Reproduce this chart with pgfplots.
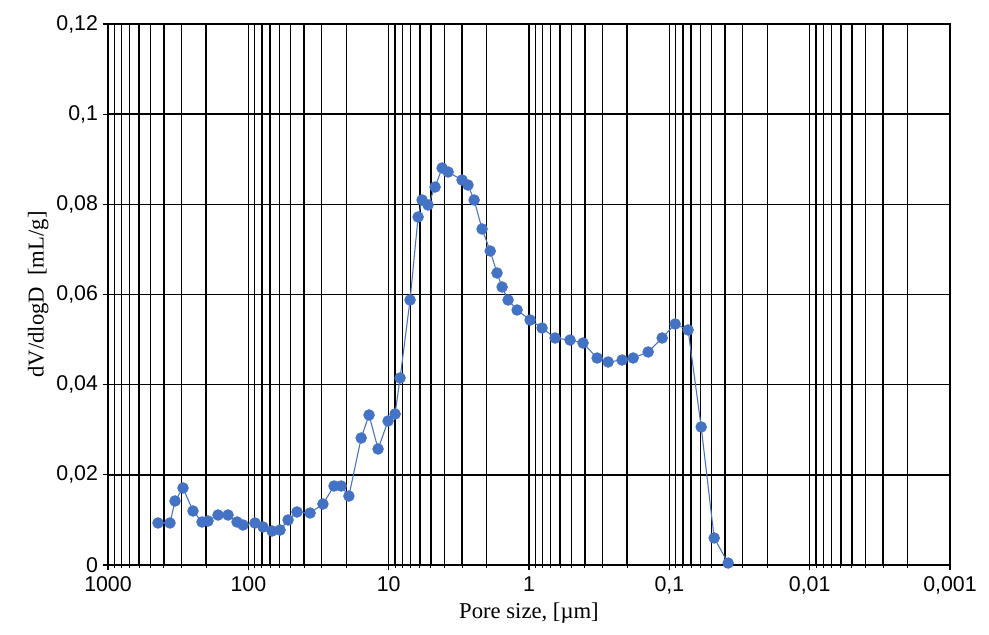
\documentclass[border=0pt]{standalone}
\usepackage{fontspec}
\setmainfont{Liberation Serif}
\setsansfont{Liberation Sans}
\usepackage{pgfplots}
\pgfplotsset{compat=1.18}
\definecolor{ser}{HTML}{4472C4}
\begin{document}
\begin{tikzpicture}
\begin{axis}[
  scale only axis,
  width=631.5pt, height=405.75pt,
  xmode=log, x dir=reverse,
  xmin=0.001, xmax=1000,
  ymin=0, ymax=0.12,
  xtick={1000,100,10,1,0.1,0.01,0.001},
  xticklabels={1000,100,10,1,{0,1},{0,01},{0,001}},
  minor xtick={0.002,0.003,0.004,0.005,0.006,0.007,0.008,0.009,
               0.02,0.03,0.04,0.05,0.06,0.07,0.08,0.09,
               0.2,0.3,0.4,0.5,0.6,0.7,0.8,0.9,
               2,3,4,5,6,7,8,9,
               20,30,40,50,60,70,80,90,
               200,300,400,500,600,700,800,900},
  ytick={0,0.02,0.04,0.06,0.08,0.1,0.12},
  yticklabels={0,{0,02},{0,04},{0,06},{0,08},{0,1},{0,12}},
  grid=both,
  major grid style={black, line width=1.1pt},
  minor grid style={black, line width=1.1pt},
  axis line style={black, line width=1.1pt},
  tick style={black, line width=0.8pt},
  tick align=outside,
  major tick length=4pt,
  minor tick length=2.5pt,
  ytick pos=left, xtick pos=bottom,
  tick label style={font=\sffamily\fontsize{16}{18}\selectfont},
  xticklabel style={yshift=-1.5pt},
  label style={font=\fontsize{17}{20}\selectfont},
  xlabel={Pore size, [µm]},
  ylabel={dV/dlogD\ \ [mL/g]},
  xlabel style={yshift=1pt},
  ylabel style={yshift=-1pt},
  clip=false,
]
\addplot[color=ser, line width=0.8pt, mark=*, mark size=3.9pt, mark options={fill=ser, draw=ser}] coordinates {
(440.2,0.00932)
(361.5,0.00932)
(333.0,0.0142)
(292.1,0.01708)
(247.9,0.01198)
(213.8,0.00954)
(193.8,0.00976)
(164.4,0.01109)
(139.5,0.01109)
(120.4,0.00954)
(109.1,0.00887)
(89.6,0.00932)
(78.6,0.00843)
(67.8,0.00754)
(59.4,0.00776)
(52.1,0.00998)
(45.0,0.01176)
(36.3,0.01153)
(29.4,0.01353)
(24.5,0.01752)
(21.8,0.01752)
(19.2,0.0153)
(15.7,0.02817)
(13.8,0.03327)
(11.9,0.02573)
(10.1,0.03194)
(9.0,0.03349)
(8.29,0.04148)
(7.04,0.05878)
(6.17,0.07719)
(5.78,0.08096)
(5.24,0.07985)
(4.67,0.08384)
(4.16,0.08806)
(3.77,0.08717)
(3.00,0.08539)
(2.72,0.08428)
(2.46,0.08096)
(2.16,0.07453)
(1.89,0.06965)
(1.69,0.06477)
(1.555,0.06166)
(1.41,0.05878)
(1.216,0.05656)
(0.982,0.05434)
(0.807,0.05257)
(0.652,0.05035)
(0.510,0.0499)
(0.412,0.04924)
(0.327,0.04591)
(0.273,0.04503)
(0.217,0.04547)
(0.181,0.04591)
(0.1416,0.04725)
(0.1125,0.05035)
(0.0909,0.05346)
(0.0735,0.05213)
(0.0593,0.03061)
(0.0479,0.00599)
(0.0381,0.00044)
};
\end{axis}
\path ([shift={(-81pt,-52.5pt)}]current axis.south west) rectangle ([shift={(29.25pt,18pt)}]current axis.north east);
\end{tikzpicture}
\end{document}
